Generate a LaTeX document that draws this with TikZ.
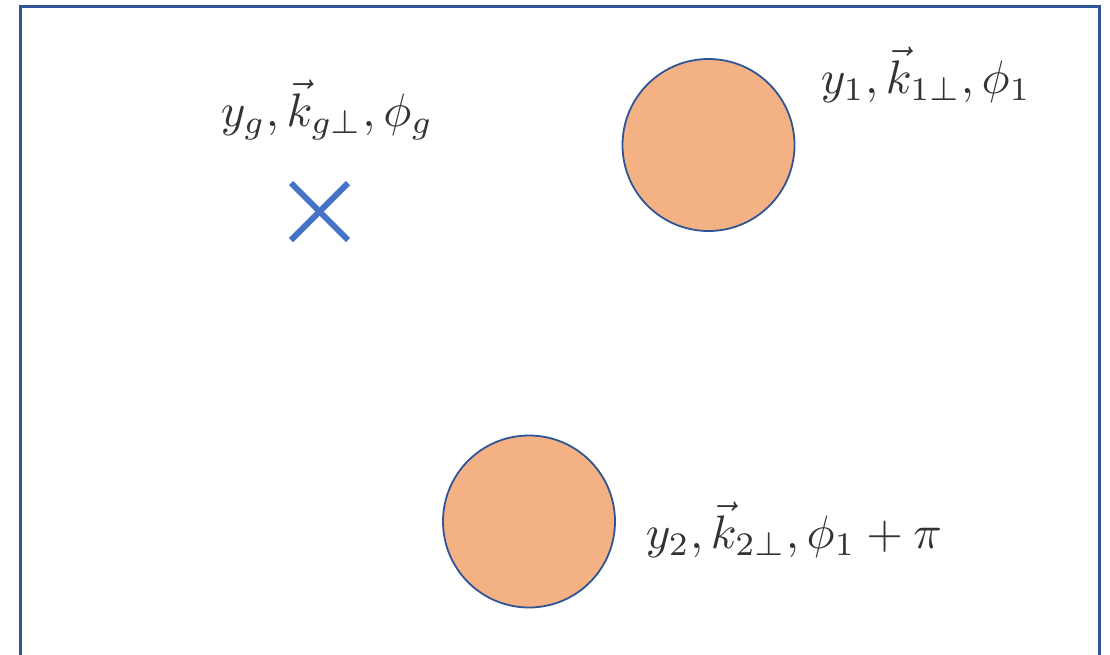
\documentclass[tikz,border=0pt]{standalone}
\usepackage{amsmath}
\definecolor{frameblue}{HTML}{2F5597}
\definecolor{crossblue}{HTML}{4472C4}
\definecolor{blobfill}{HTML}{F4B183}
\tikzset{
  frame/.style={draw=frameblue, line width=3pt},
  blob/.style={circle, draw=frameblue, line width=1.8pt, fill=blobfill, minimum size=172pt, inner sep=0pt},
  crossmark/.style={draw=crossblue, line width=6pt},
  lbl/.style={scale=4.7, transform shape, inner sep=0pt, text=black!80, anchor=base west}
}
\begin{document}
\begin{tikzpicture}[x=1pt,y=-1pt]
\clip (0,0) rectangle (1110,654);
\draw[frame] (20.5,700) -- (20.5,6.5) -- (1099.5,6.5) -- (1099.5,700);
\node[blob] (c1) at (708.5,145) {};
\node[blob] (c2) at (529,521.5) {};
\coordinate (g) at (319.5,211.5);
\draw[crossmark] ([shift={(-28.5,-28.5)}]g) -- ([shift={(28.5,28.5)}]g);
\draw[crossmark] ([shift={(-28.5,28.5)}]g) -- ([shift={(28.5,-28.5)}]g);
\node[lbl] (lg) at (220,126) {$y_g,\vec{k}_{g\perp},\phi_g$};
\node[lbl] (l1) at (820,93) {$y_1,\vec{k}_{1\perp},\phi_1$};
\node[lbl] (l2) at (645,548) {$y_2,\vec{k}_{2\perp},\phi_1+\pi$};
\end{tikzpicture}
\end{document}
